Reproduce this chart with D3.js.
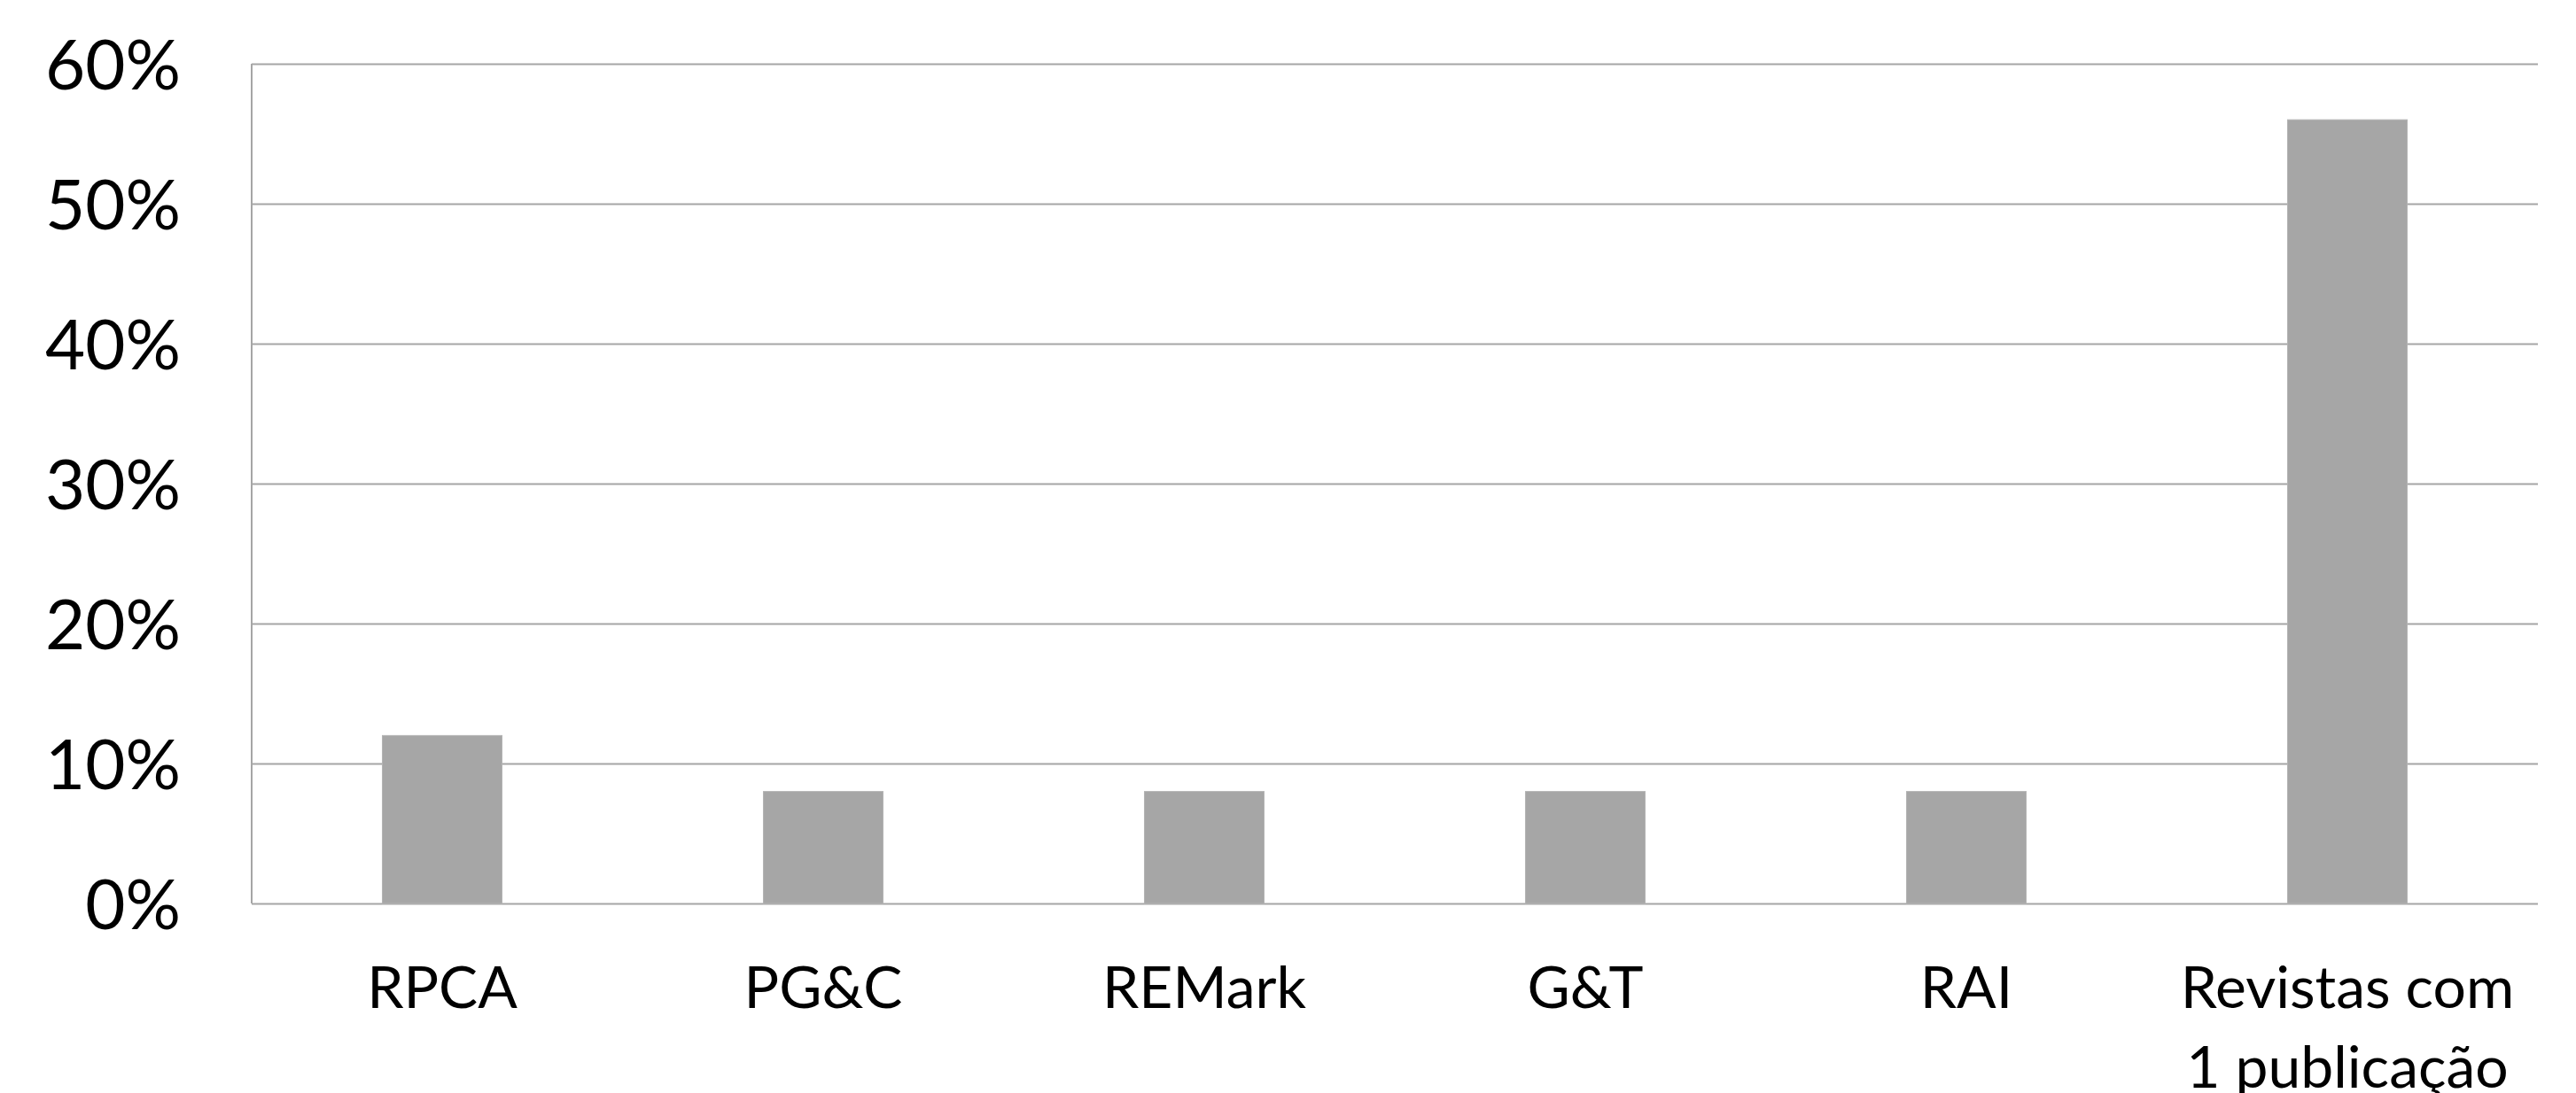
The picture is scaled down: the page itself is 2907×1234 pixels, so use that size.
<!DOCTYPE html>
<html>
<head>
<meta charset="utf-8">
<script src="https://cdn.jsdelivr.net/npm/d3@7"></script>
<style>
  body { margin: 0; background: #fff; }
  svg { display: block; }
</style>
</head>
<body>
<svg width="2907" height="1234"></svg>
<script>
// dados
const categorias = ['RPCA', 'PG&C', 'REMark', 'G&T', 'RAI', 'Revistas com 1 publicação'];
const percentuais = [0.12, 0.08, 0.08, 0.08, 0.08, 0.56];
const ticksY = [0, 0.1, 0.2, 0.3, 0.4, 0.5, 0.6];

const svg = d3.select('svg');
const fonte = 'Lato, "Open Sans", sans-serif';

// area do grafico
const x0 = 284, x1 = 2864, yBase = 1020, yTopo = 72;

const x = d3.scaleBand()
    .domain(categorias)
    .range([x0, x1])
    .paddingInner(0.686)
    .paddingOuter(0.343);

const y = d3.scaleLinear()
    .domain([0, 0.6])
    .range([yBase, yTopo]);

// Eixo Y + grade
const eixoY = svg.append('g')
    .attr('transform', `translate(${x0},0)`)
    .call(d3.axisLeft(y)
        .tickValues(ticksY)
        .tickSize(-(x1 - x0))
        .tickPadding(80)
        .tickFormat(d3.format('.0%')));

eixoY.select('.domain')
    .attr('stroke', '#a6a6a6')
    .attr('stroke-width', 2)
    .attr('d', `M0,${yTopo}V${yBase}`);

eixoY.selectAll('.tick line')
    .attr('stroke', '#a6a6a6')
    .attr('stroke-width', 2);

eixoY.selectAll('.tick text')
    .attr('dy', '0.36em')
    .style('font-family', fonte)
    .style('font-size', '78px')
    .attr('fill', '#000');

// Barras
svg.append('g')
    .selectAll('rect')
    .data(percentuais)
    .join('rect')
    .attr('x', (d, i) => x(categorias[i]))
    .attr('y', d => y(d))
    .attr('width', x.bandwidth())
    .attr('height', d => yBase - y(d))
    .attr('fill', '#a6a6a6')
    .attr('stroke', '#b4b4b4')
    .attr('stroke-width', 1);

// Eixo X (somente rótulos)
const eixoX = svg.append('g')
    .attr('transform', `translate(0,${yBase})`)
    .call(d3.axisBottom(x).tickSize(0).tickPadding(0));

eixoX.select('.domain').remove();

eixoX.selectAll('.tick text')
    .style('font-family', fonte)
    .style('font-size', '66px')
    .attr('fill', '#000')
    .attr('y', 118)
    .attr('dy', 0)
    .each(function (d) {
        quebrar(d3.select(this), x.step() - 20);
    });

function quebrar(texto, largura) {
    const palavras = texto.text().split(' ');
    texto.text(null);
    let linha = [];
    let tspan = texto.append('tspan').attr('x', 0).attr('dy', 0);
    palavras.forEach(p => {
        linha.push(p);
        tspan.text(linha.join(' '));
        if (tspan.node().getComputedTextLength() > largura && linha.length > 1) {
            linha.pop();
            tspan.text(linha.join(' '));
            linha = [p];
            tspan = texto.append('tspan').attr('x', 0).attr('dy', 90).text(p);
        }
    });
}
</script>
</body>
</html>
